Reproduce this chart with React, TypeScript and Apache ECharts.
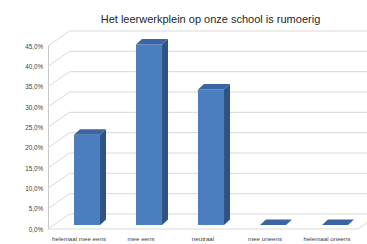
import React, { useEffect, useRef } from "react";
import * as echarts from "echarts";

const title = "Het leerwerkplein op onze school is rumoerig";
const categories = ["helemaal mee eens", "mee eens", "neutraal", "mee oneens", "helemaal oneens"];
const values = [22.2, 44.4, 33.3, 0, 0];
const gridValues = [0, 5, 10, 15, 20, 25, 30, 35, 40, 45];

const DX = 21.5; // wall depth
const DY = 15;
const BOX = 8; // bar offset into depth
const BOY = 4;
const BDX = 6; // bar depth
const BDY = 5.5;

const FRONT = "#4A7EBF";
const SIDE = "#2F5282";
const TOP = "#3A64A3";
const GRID = "#D9D9D9";

export default function App() {
  const ref = useRef<HTMLDivElement>(null);
  useEffect(() => {
    if (!ref.current) return;
    const chart = echarts.init(ref.current, undefined, { renderer: "svg" });
    const font = "Liberation Sans, Arial, sans-serif";
    chart.setOption({
      animation: false,
      title: {
        text: title,
        left: 205.5,
        top: 8,
        textAlign: "center",
        textStyle: { fontSize: 11, fontWeight: "normal", color: "#262626", fontFamily: font },
      },
      grid: { left: 48, right: 9, top: 46, bottom: 15 },
      xAxis: {
        type: "category",
        data: categories,
        boundaryGap: true,
        axisLine: { show: false },
        axisTick: { show: false },
        axisLabel: { fontSize: 6.2, color: "#404040", margin: 6, fontFamily: font, interval: 0 },
      },
      yAxis: {
        type: "value",
        min: 0,
        max: 45,
        interval: 5,
        axisLine: { show: true, lineStyle: { color: "#C8C8C8", width: 1 } },
        axisTick: { show: false },
        splitLine: { show: false },
        axisLabel: {
          fontSize: 6.3,
          color: "#404040",
          margin: 5,
          fontFamily: font,
          formatter: (v: number) => v.toFixed(1).replace(".", ",") + "%",
        },
      },
      series: [
        {
          type: "custom",
          z: 1,
          silent: true,
          data: gridValues.map((v) => [0, v]),
          renderItem: (params: any, api: any) => {
            const cs = params.coordSys;
            const y = api.coord([0, api.value(1)])[1];
            const x0 = cs.x;
            const x1 = cs.x + cs.width;
            const children: any[] = [
              {
                type: "polyline",
                shape: { points: [[x0, y], [x0 + DX, y - DY], [x1 + DX, y - DY]] },
                style: { stroke: GRID, lineWidth: 1, fill: "none" },
              },
            ];
            if (api.value(1) === 0) {
              children.push({
                type: "polyline",
                shape: { points: [[x0, y], [x1, y], [x1 + DX, y - DY]] },
                style: { stroke: GRID, lineWidth: 1, fill: "none" },
              });
            }
            return { type: "group", children };
          },
        },
        {
          type: "custom",
          z: 3,
          data: values.map((v, i) => [i, v]),
          renderItem: (params: any, api: any) => {
            const i = api.value(0);
            const v = api.value(1);
            const base = api.coord([i, 0]);
            const top = api.coord([i, v]);
            const w = api.size([1, 0])[0] * 0.42;
            const xl = base[0] - w / 2 + BOX;
            const xr = base[0] + w / 2 + BOX;
            const yb = base[1] - BOY;
            const yt = top[1] - BOY;
            const children: any[] = [];
            if (yb - yt > 0.5) {
              children.push({
                type: "rect",
                shape: { x: xl, y: yt, width: xr - xl, height: yb - yt },
                style: { fill: FRONT },
              });
              children.push({
                type: "polygon",
                shape: { points: [[xr, yt], [xr + BDX, yt - BDY], [xr + BDX, yb - BDY], [xr, yb]] },
                style: { fill: SIDE },
              });
            }
            children.push({
              type: "polygon",
              shape: { points: [[xl, yt], [xl + BDX, yt - BDY], [xr + BDX, yt - BDY], [xr, yt]] },
              style: { fill: TOP },
            });
            return { type: "group", children };
          },
        },
      ],
    });
    return () => chart.dispose();
  }, []);
  return (
    <div
      ref={ref}
      style={{ position: "absolute", left: 0, top: 0, width: 367, height: 244, background: "#fff" }}
    />
  );
}
